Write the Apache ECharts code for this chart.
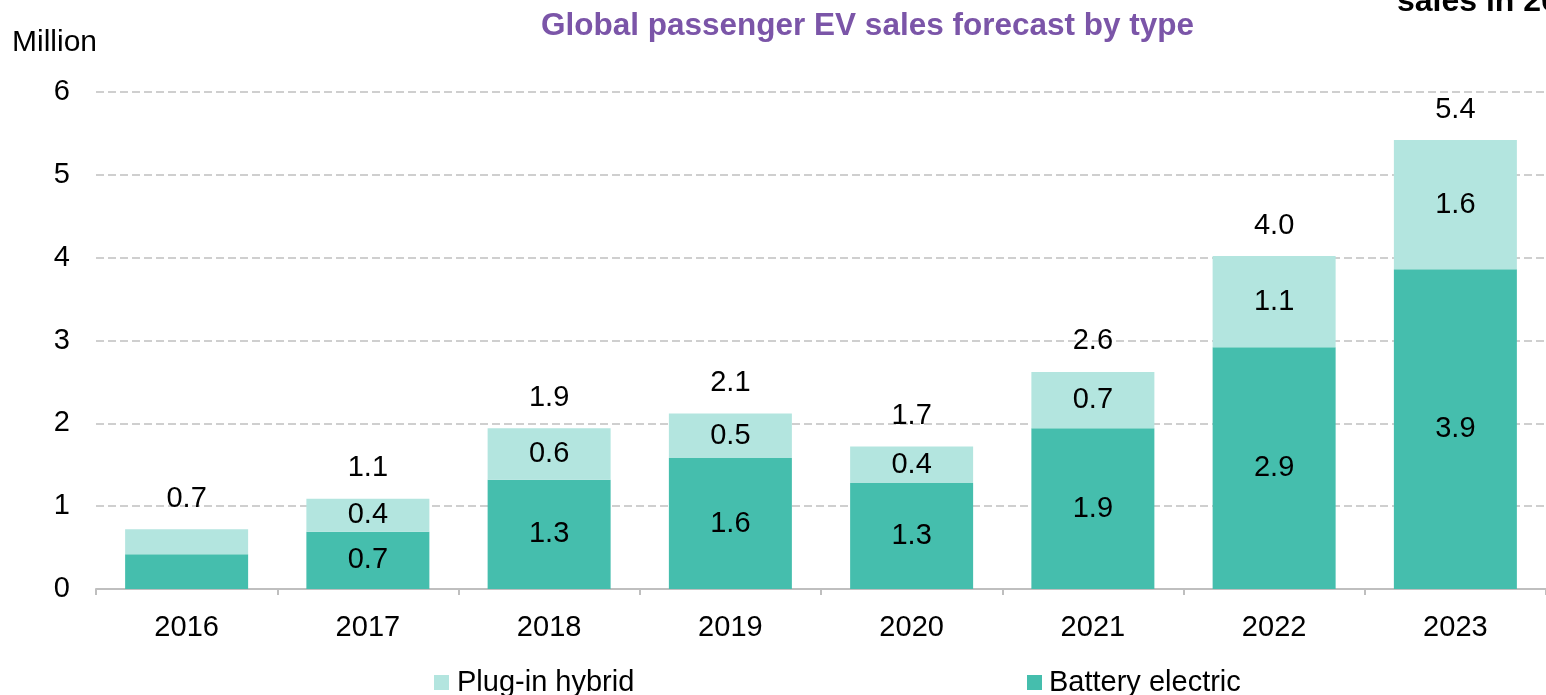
<!DOCTYPE html>
<html>
<head>
<meta charset="utf-8">
<script src="https://cdn.jsdelivr.net/npm/echarts@6/dist/echarts.min.js"></script>
<style>html,body{margin:0;padding:0;background:#fff;}#c{width:1546px;height:695px;}</style>
</head>
<body>
<div id="c"></div>
<script>
const categories = ['2016','2017','2018','2019','2020','2021','2022','2023'];
const batteryElectric = [0.42, 0.69, 1.32, 1.58, 1.28, 1.94, 2.92, 3.86];
const pluginHybrid = [0.30, 0.40, 0.62, 0.54, 0.44, 0.68, 1.10, 1.56];
const showSegmentLabel = [false, true, true, true, true, true, true, true];
const yTicks = [0, 1, 2, 3, 4, 5, 6];

const totals = batteryElectric.map((v, i) => +(v + pluginHybrid[i]).toFixed(2));
const FONT = 'Liberation Sans, Arial, sans-serif';
const BEV_COLOR = '#45BEAD';
const PHEV_COLOR = '#B3E5DF';

const chart = echarts.init(document.getElementById('c'));
const lbl = (show) => ({ show: show, position: 'inside', color: '#000', fontSize: 29, fontFamily: FONT, formatter: p => p.value.toFixed(1) });

chart.setOption({
  animation: false,
  backgroundColor: '#fff',
  title: {
    text: 'Global passenger EV sales forecast by type',
    left: 536, top: 5, padding: 5,
    textStyle: { color: '#7B55A8', fontSize: 31.5, fontWeight: 'bold', fontFamily: FONT }
  },
  graphic: [
    { type: 'text', left: 12, top: 28, style: { text: 'Million', fill: '#000', font: '30px ' + FONT } },
    { type: 'text', x: 1397, y: 2, style: { text: 'sales in 2023', fill: '#000', font: 'bold 32px ' + FONT, verticalAlign: 'middle' } }
  ],
  legend: [
    { data: ['Plug-in hybrid'], left: 434, top: 668, padding: 0, itemWidth: 15, itemHeight: 15, icon: 'rect',
      textStyle: { fontSize: 29, fontFamily: FONT, color: '#000', padding: [0, 0, 0, 3] } },
    { data: ['Battery electric'], left: 1027, top: 668, padding: 0, itemWidth: 15, itemHeight: 15, icon: 'rect',
      textStyle: { fontSize: 29, fontFamily: FONT, color: '#000', padding: [0, 0, 0, 2] } }
  ],
  grid: { left: 96, right: -11, top: 92, bottom: 106, containLabel: false },
  xAxis: {
    type: 'category', data: categories,
    axisLine: { lineStyle: { color: '#BFBFBF', width: 2 } },
    axisTick: { show: true, length: 6, lineStyle: { color: '#BFBFBF', width: 2 } },
    axisLabel: { color: '#000', fontSize: 29, fontFamily: FONT, margin: 24 }
  },
  yAxis: {
    type: 'value', min: yTicks[0], max: yTicks[yTicks.length - 1], interval: 1,
    axisLine: { show: false }, axisTick: { show: false },
    axisLabel: { color: '#000', fontSize: 29, fontFamily: FONT, margin: 26 },
    splitLine: { lineStyle: { color: '#C0C0C0', type: [8, 4], width: 1.5 } }
  },
  series: [
    { name: 'Battery electric', type: 'bar', stack: 'ev', barWidth: 123, itemStyle: { color: BEV_COLOR },
      data: batteryElectric.map((v, i) => ({ value: v, label: lbl(showSegmentLabel[i]) })) },
    { name: 'Plug-in hybrid', type: 'bar', stack: 'ev', barWidth: 123, itemStyle: { color: PHEV_COLOR },
      data: pluginHybrid.map((v, i) => ({ value: v, label: lbl(showSegmentLabel[i]) })) },
    { name: 'Total', type: 'bar', barWidth: 123, barGap: '-100%', itemStyle: { color: 'rgba(0,0,0,0)' },
      label: { show: true, position: 'top', distance: 16, color: '#000', fontSize: 29, fontFamily: FONT, formatter: p => p.value.toFixed(1) },
      data: totals, z: 1 }
  ]
});
</script>
</body>
</html>
